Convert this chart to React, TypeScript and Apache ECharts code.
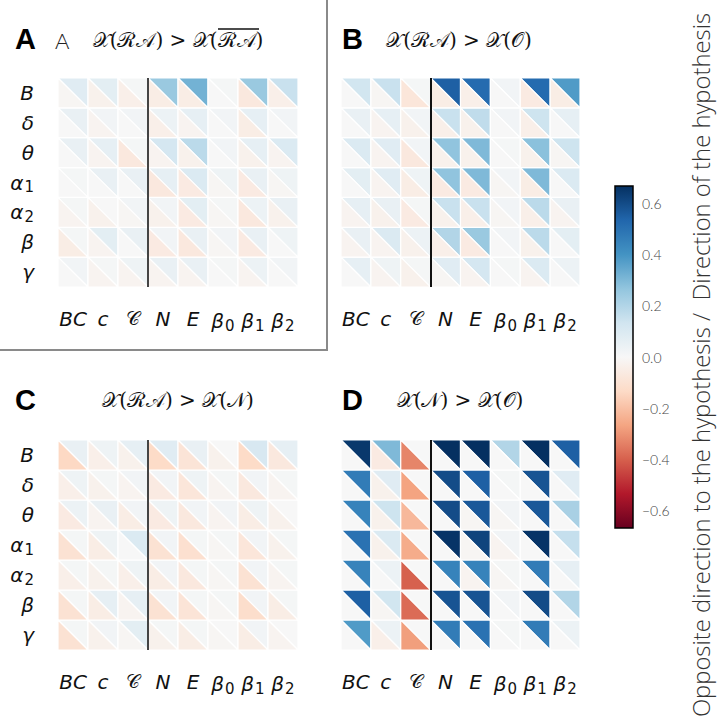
import React, { useEffect, useRef } from "react";
import * as echarts from "echarts";

const ROWS = ["B", "δ", "θ", "α1", "α2", "β", "γ"];
const COLS = ["BC", "c", "𝒞", "N", "E", "β0", "β1", "β2"];
const CBAR_TICKS = [-0.6, -0.4, -0.2, 0.0, 0.2, 0.4, 0.6];
const VMIN = -0.67;
const VMAX = 0.67;

const A_UP = [
  [0.08, 0.07, 0.01, 0.25, 0.32, 0.01, 0.25, 0.15],
  [0.05, 0.02, 0.02, 0.04, 0.06, 0.02, 0.06, 0.02],
  [0.05, 0.06, 0.01, 0.12, 0.18, 0.02, 0.06, 0.1],
  [0.01, 0.05, 0.05, 0.06, 0.1, 0.03, 0.05, 0.03],
  [0.01, 0.0, 0.02, 0.02, 0.07, 0.01, 0.04, 0.05],
  [0.01, 0.07, 0.05, 0.02, 0.05, 0.02, 0.05, 0.03],
  [0.02, 0.01, 0.03, 0.05, 0.05, 0.01, 0.04, 0.02],
];
const A_LO = [
  [-0.01, -0.03, -0.04, -0.05, -0.05, 0.0, -0.07, -0.04],
  [0.0, -0.02, 0.0, -0.04, -0.02, 0.0, -0.05, 0.0],
  [0.0, -0.02, -0.07, -0.02, -0.03, 0.0, -0.03, -0.02],
  [0.0, 0.0, 0.0, -0.07, -0.06, -0.01, -0.06, -0.01],
  [-0.02, -0.03, -0.01, -0.03, -0.06, -0.01, -0.07, -0.03],
  [-0.05, -0.02, 0.0, -0.06, -0.07, -0.01, -0.06, 0.0],
  [0.0, -0.02, -0.02, -0.02, -0.02, 0.0, -0.02, 0.0],
];
const B_UP = [
  [0.13, 0.15, 0.01, 0.55, 0.52, 0.02, 0.52, 0.38],
  [0.05, 0.06, 0.02, 0.15, 0.17, 0.02, 0.14, 0.06],
  [0.1, 0.08, 0.02, 0.27, 0.3, 0.01, 0.28, 0.14],
  [0.07, 0.08, 0.03, 0.27, 0.3, 0.02, 0.3, 0.1],
  [0.06, 0.05, 0.01, 0.15, 0.15, 0.02, 0.18, 0.05],
  [0.05, 0.1, 0.04, 0.2, 0.25, 0.02, 0.18, 0.07],
  [0.06, 0.03, 0.01, 0.08, 0.12, 0.01, 0.1, 0.04],
];
const B_LO = [
  [0.0, -0.01, -0.08, -0.05, -0.04, 0.0, -0.06, -0.05],
  [0.0, -0.02, -0.03, -0.04, -0.03, 0.0, -0.04, 0.0],
  [0.0, -0.02, -0.07, -0.03, -0.03, 0.0, -0.03, -0.01],
  [0.0, -0.02, -0.05, -0.06, -0.06, -0.01, -0.05, 0.0],
  [-0.02, -0.03, -0.06, -0.03, -0.04, -0.01, -0.04, -0.02],
  [-0.02, -0.02, -0.03, -0.04, -0.06, 0.0, -0.03, 0.0],
  [0.0, -0.02, -0.03, -0.01, -0.02, 0.0, -0.02, 0.0],
];
const C_UP = [
  [0.05, 0.03, 0.06, 0.08, 0.05, 0.0, 0.11, 0.06],
  [0.03, 0.01, 0.02, 0.02, 0.03, 0.01, 0.02, 0.01],
  [0.04, 0.05, 0.02, 0.03, 0.02, 0.02, 0.03, 0.0],
  [0.01, 0.03, 0.1, 0.02, 0.01, 0.01, 0.02, 0.01],
  [0.01, 0.01, 0.03, 0.02, 0.01, 0.01, 0.02, 0.01],
  [0.01, 0.06, 0.06, 0.02, 0.01, 0.01, 0.02, 0.01],
  [0.01, 0.02, 0.07, 0.01, 0.01, 0.0, 0.02, 0.0],
];
const C_LO = [
  [-0.14, -0.04, -0.03, -0.13, -0.09, -0.03, -0.13, -0.07],
  [-0.04, -0.03, -0.02, -0.06, -0.08, -0.02, -0.07, -0.02],
  [-0.06, -0.02, -0.05, -0.06, -0.07, -0.02, -0.05, -0.03],
  [-0.1, -0.05, 0.0, -0.1, -0.11, -0.01, -0.08, -0.03],
  [-0.04, -0.03, -0.04, -0.05, -0.07, -0.01, -0.1, -0.02],
  [-0.1, -0.05, -0.02, -0.1, -0.09, -0.01, -0.12, -0.05],
  [-0.1, -0.03, -0.01, -0.03, -0.05, -0.01, -0.05, -0.02],
];
const D_UP = [
  [0.65, 0.3, 0.0, 0.67, 0.67, 0.2, 0.67, 0.55],
  [0.47, 0.08, 0.0, 0.6, 0.55, 0.01, 0.58, 0.08],
  [0.45, 0.14, 0.0, 0.6, 0.57, 0.02, 0.57, 0.22],
  [0.5, 0.1, 0.0, 0.66, 0.62, 0.02, 0.66, 0.16],
  [0.45, 0.04, 0.0, 0.45, 0.45, 0.01, 0.47, 0.06],
  [0.55, 0.13, 0.0, 0.58, 0.58, 0.02, 0.6, 0.2],
  [0.38, 0.04, 0.0, 0.47, 0.5, 0.01, 0.47, 0.04],
];
const D_LO = [
  [0.0, -0.06, -0.33, 0.0, 0.0, 0.0, 0.0, 0.0],
  [0.0, -0.03, -0.27, 0.0, 0.0, 0.0, 0.0, 0.0],
  [0.0, -0.03, -0.22, 0.0, -0.01, -0.01, 0.0, 0.0],
  [0.0, -0.03, -0.25, 0.0, -0.01, -0.02, 0.0, 0.0],
  [0.0, 0.0, -0.4, 0.0, -0.02, -0.01, 0.0, 0.0],
  [0.0, -0.01, -0.38, 0.0, 0.0, 0.0, 0.0, 0.0],
  [0.0, -0.04, -0.28, 0.0, 0.0, 0.0, 0.0, 0.0],
];

const TITLES = [
  "𝒳(ℛ𝒜) > 𝒳(ℛ𝒜)",
  "𝒳(ℛ𝒜) > 𝒳(𝒪)",
  "𝒳(ℛ𝒜) > 𝒳(𝒩)",
  "𝒳(𝒩) > 𝒳(𝒪)",
];
const LETTERS = ["A", "B", "C", "D"];

const RDBU = [
  "#67001f", "#b2182b", "#d6604d", "#f4a582", "#fddbc7", "#f7f7f7",
  "#d1e5f0", "#92c5de", "#4393c3", "#2166ac", "#053061",
];

const PANELS = [
  { up: A_UP, lo: A_LO },
  { up: B_UP, lo: B_LO },
  { up: C_UP, lo: C_LO },
  { up: D_UP, lo: D_LO },
];

const GRIDS = [
  { left: 58, top: 78, width: 240, height: 209 },
  { left: 341, top: 78, width: 239, height: 209 },
  { left: 58, top: 440, width: 240, height: 210 },
  { left: 341, top: 440, width: 239, height: 210 },
];

const MATH_FONT = "DejaVu Sans";

function fmtLabel(s: string) {
  const m = s.match(/^(.)(\d)$/);
  if (m) return `{i|${m[1]}}{s|${m[2]}}`;
  if (s === "𝒞") return `{c|${s}}`;
  return `{i|${s}}`;
}

const richLabel = {
  i: { fontFamily: MATH_FONT, fontStyle: "italic", fontSize: 20, color: "#111" },
  c: { fontFamily: "serif", fontStyle: "normal", fontSize: 19, color: "#111" },
  s: { fontFamily: MATH_FONT, fontSize: 15, color: "#111", padding: [9, 0, 0, 1] },
};

function buildTriangles(p: { up: number[][]; lo: number[][] }) {
  const out: number[][] = [];
  p.up.forEach((row, r) => row.forEach((v, c) => out.push([c, r, v, 0])));
  p.lo.forEach((row, r) => row.forEach((v, c) => out.push([c, r, v, 1])));
  return out;
}

export default function App() {
  const ref = useRef<HTMLDivElement>(null);
  useEffect(() => {
    if (!ref.current) return;
    const chart = echarts.init(ref.current, null, { renderer: "svg" });

    const grids: any[] = GRIDS.map((g) => ({ ...g, containLabel: false }));
    grids.push({ left: 615, top: 186, width: 18, height: 342 });

    const xAxes: any[] = GRIDS.map((_, i) => ({
      type: "category",
      gridIndex: i,
      data: COLS,
      axisLine: { show: false },
      axisTick: { show: false },
      splitLine: { show: false },
      axisLabel: {
        margin: 22,
        formatter: (v: string) => fmtLabel(v),
        rich: richLabel,
        interval: 0,
      },
    }));
    xAxes.push({ type: "value", gridIndex: 4, min: 0, max: 1, show: false });

    const yAxes: any[] = GRIDS.map((_, i) => ({
      type: "category",
      gridIndex: i,
      data: ROWS,
      inverse: true,
      axisLine: { show: false },
      axisTick: { show: false },
      splitLine: { show: false },
      axisLabel: {
        show: i === 0 || i === 2,
        margin: 24,
        align: "right",
        formatter: (v: string) => fmtLabel(v),
        rich: richLabel,
        interval: 0,
      },
    }));
    yAxes.push({
      type: "value",
      gridIndex: 4,
      min: VMIN,
      max: VMAX,
      position: "right",
      splitLine: { show: false },
      axisLine: { show: false },
      axisTick: {
        show: true,
        customValues: CBAR_TICKS,
        length: 6,
        lineStyle: { color: "#000", width: 1.5 },
      },
      axisLabel: {
        customValues: CBAR_TICKS,
        margin: 9,
        fontFamily: "Lato",
        fontWeight: 300,
        fontSize: 14,
        color: "#444",
        formatter: (v: number) => v.toFixed(1).replace("-", "−").replace("−0.0", "0.0"),
      },
    });

    const series: any[] = [];
    PANELS.forEach((p, i) => {
      series.push({
        type: "custom",
        xAxisIndex: i,
        yAxisIndex: i,
        data: buildTriangles(p),
        renderItem: (params: any, api: any) => {
          const c = api.coord([api.value(0), api.value(1)]);
          const s = api.size([1, 1]);
          const hw = s[0] / 2;
          const hh = s[1] / 2;
          const part = api.value(3);
          const pts =
            part === 0
              ? [[c[0] - hw, c[1] - hh], [c[0] + hw, c[1] - hh], [c[0] + hw, c[1] + hh]]
              : [[c[0] - hw, c[1] - hh], [c[0] - hw, c[1] + hh], [c[0] + hw, c[1] + hh]];
          return {
            type: "polygon",
            shape: { points: pts },
            style: { fill: api.visual("color"), stroke: "#ffffff", lineWidth: 1.2 },
          };
        },
      });
    });
    PANELS.forEach((_, i) => {
      series.push({
        type: "custom",
        xAxisIndex: i,
        yAxisIndex: i,
        data: [[3, 0]],
        z: 5,
        renderItem: (params: any, api: any) => {
          const c = api.coord([api.value(0), api.value(1)]);
          const s = api.size([1, 1]);
          const x = Math.round(c[0] - s[0] / 2);
          const cs = params.coordSys;
          return {
            type: "line",
            shape: { x1: x, y1: cs.y, x2: x, y2: cs.y + cs.height },
            style: { stroke: i % 2 === 0 ? "#444" : "#111", lineWidth: 2 },
          };
        },
      });
    });
    series.push({
      type: "custom",
      xAxisIndex: 4,
      yAxisIndex: 4,
      data: [[0, VMAX, VMIN]],
      renderItem: (params: any, api: any) => {
        const t = api.coord([0, api.value(1)]);
        const b = api.coord([0, api.value(2)]);
        const cs = params.coordSys;
        const stops = RDBU.slice()
          .reverse()
          .map((col, k) => ({ offset: k / (RDBU.length - 1), color: col }));
        return {
          type: "rect",
          shape: { x: cs.x, y: t[1], width: cs.width, height: b[1] - t[1] },
          style: {
            fill: new echarts.graphic.LinearGradient(0, 0, 0, 1, stops),
            stroke: "#000",
            lineWidth: 1.5,
          },
        };
      },
    });

    const graphics: any[] = [];
    const letterPos = [
      [15, 39],
      [342, 39],
      [15, 400],
      [342, 400],
    ];
    const titlePos = [
      [178, 40],
      [459, 40],
      [178, 400],
      [460, 400],
    ];
    LETTERS.forEach((L, i) => {
      graphics.push({
        type: "text",
        x: letterPos[i][0],
        y: letterPos[i][1],
        style: {
          text: L,
          font: "bold 29px 'Liberation Sans', Arial, sans-serif",
          fill: "#000",
          verticalAlign: "middle",
        },
      });
      graphics.push({
        type: "text",
        x: titlePos[i][0],
        y: titlePos[i][1],
        style: {
          text: TITLES[i],
          font: "20px 'DejaVu Serif', serif",
          fill: "#111",
          align: "center",
          verticalAlign: "middle",
        },
      });
    });
    graphics.push({
      type: "text",
      x: 55,
      y: 40,
      style: { text: "A", font: "300 22px Lato, sans-serif", fill: "#222", verticalAlign: "middle" },
    });
    graphics.push({
      type: "line",
      shape: { x1: 218, y1: 29, x2: 259, y2: 29 },
      style: { stroke: "#111", lineWidth: 1.3 },
    });
    graphics.push({
      type: "polyline",
      shape: { points: [[327, 0], [327, 350], [0, 350]] },
      style: { stroke: "#8a8a8a", lineWidth: 2, fill: null },
    });
    graphics.push({
      type: "text",
      x: 701,
      y: 365,
      rotation: Math.PI / 2,
      style: {
        text: "Opposite direction to the hypothesis /  Direction of the hypothesis",
        font: "300 23.8px 'Open Sans', sans-serif",
        fill: "#333",
        align: "center",
        verticalAlign: "middle",
      },
    });

    chart.setOption({
      animation: false,
      backgroundColor: "#ffffff",
      grid: grids,
      xAxis: xAxes,
      yAxis: yAxes,
      visualMap: {
        type: "continuous",
        show: false,
        min: VMIN,
        max: VMAX,
        dimension: 2,
        seriesIndex: [0, 1, 2, 3],
        inRange: { color: RDBU },
      },
      series,
      graphic: graphics,
    });
    return () => chart.dispose();
  }, []);
  return (
    <div
      ref={ref}
      style={{ position: "fixed", left: 0, top: 0, width: 717, height: 721 }}
    />
  );
}
